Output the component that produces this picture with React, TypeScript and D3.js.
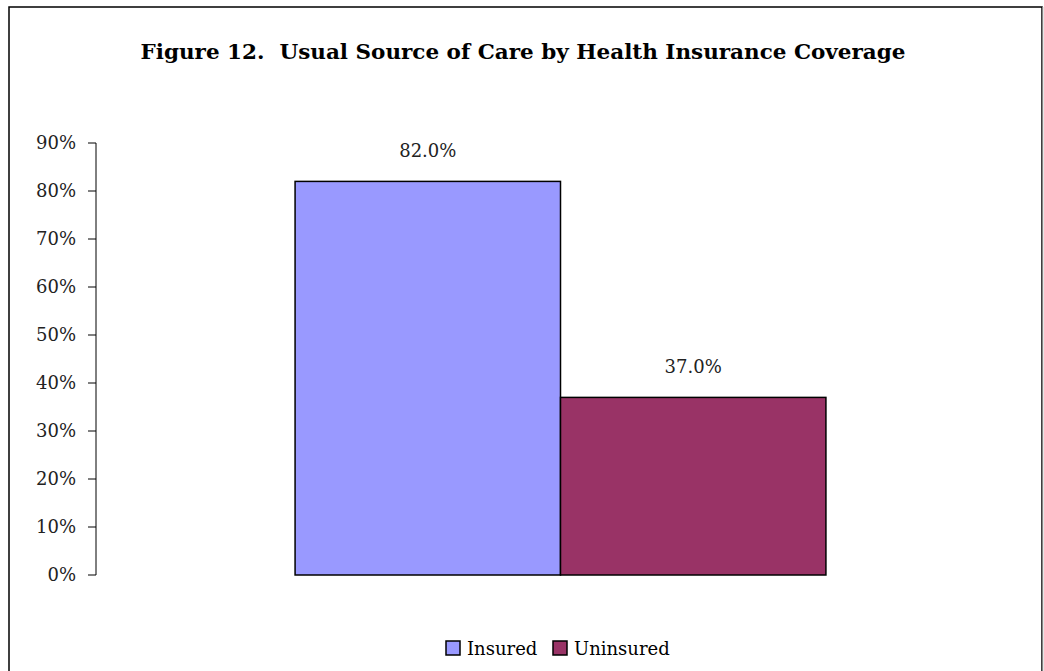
import React from "react";
import * as d3 from "d3";

const categories = ["Insured", "Uninsured"];
const values = [82.0, 37.0];
const colors = ["#9999FF", "#993366"];
const yTicks = [0, 10, 20, 30, 40, 50, 60, 70, 80, 90];
const title = "Figure 12.  Usual Source of Care by Health Insurance Coverage";

const W = 1044;
const H = 671;
const FONT = "'DejaVu Serif', 'Liberation Serif', serif";

export default function App() {
  const plot = { left: 96, right: 1025, top: 143, bottom: 575 };

  const y = d3.scaleLinear().domain([0, 90]).range([plot.bottom, plot.top]);
  const group = d3
    .scaleBand<string>()
    .domain(["all"])
    .range([plot.left, plot.right])
    .paddingInner(0)
    .paddingOuter(0.375);
  const x = d3.scaleBand<string>().domain(categories).range([0, group.bandwidth()]).padding(0);
  const gx = group("all") as number;

  return (
    <svg width={W} height={H} style={{ position: "absolute", left: 0, top: 0, background: "#fff" }}>
      <rect x={9} y={7} width={1033} height={680} fill="#fff" stroke="#000" strokeWidth={1.5} />
      <line x1={1043} y1={7} x2={1043} y2={671} stroke="#ccc" strokeWidth={1} />

      <text
        x={W / 2 + 1}
        y={59}
        textAnchor="middle"
        fontFamily={FONT}
        fontWeight="bold"
        fontSize={21}
        textLength={765}
        lengthAdjust="spacingAndGlyphs"
        style={{ whiteSpace: "pre" }}
      >
        {title}
      </text>

      {/* y axis */}
      <line x1={plot.left} y1={y(90)} x2={plot.left} y2={y(0)} stroke="#000" strokeWidth={1} />
      {yTicks.map((t) => (
        <g key={t}>
          <line x1={plot.left - 8} x2={plot.left} y1={y(t)} y2={y(t)} stroke="#000" strokeWidth={1} />
          <text x={76} y={y(t) + 6} textAnchor="end" fontFamily={FONT} fontSize={18} fill="#222">
            {t}%
          </text>
        </g>
      ))}

      {/* bars */}
      {categories.map((c, i) => {
        const bx = gx + (x(c) as number);
        const bw = x.bandwidth();
        return (
          <g key={c}>
            <rect
              x={bx}
              y={y(values[i])}
              width={bw}
              height={y(0) - y(values[i])}
              fill={colors[i]}
              stroke="#000"
              strokeWidth={1.5}
            />
            <text x={bx + bw / 2} y={y(values[i]) - 24} textAnchor="middle" fontFamily={FONT} fontSize={18} fill="#222">
              {values[i].toFixed(1)}%
            </text>
          </g>
        );
      })}

      {/* legend */}
      {categories.map((c, i) => {
        const lx = [446, 553][i];
        return (
          <g key={c}>
            <rect x={lx} y={641} width={14} height={14} fill={colors[i]} stroke="#000" strokeWidth={1.5} />
            <text x={lx + 21} y={655} fontFamily={FONT} fontSize={18} fill="#000">
              {c}
            </text>
          </g>
        );
      })}
    </svg>
  );
}
